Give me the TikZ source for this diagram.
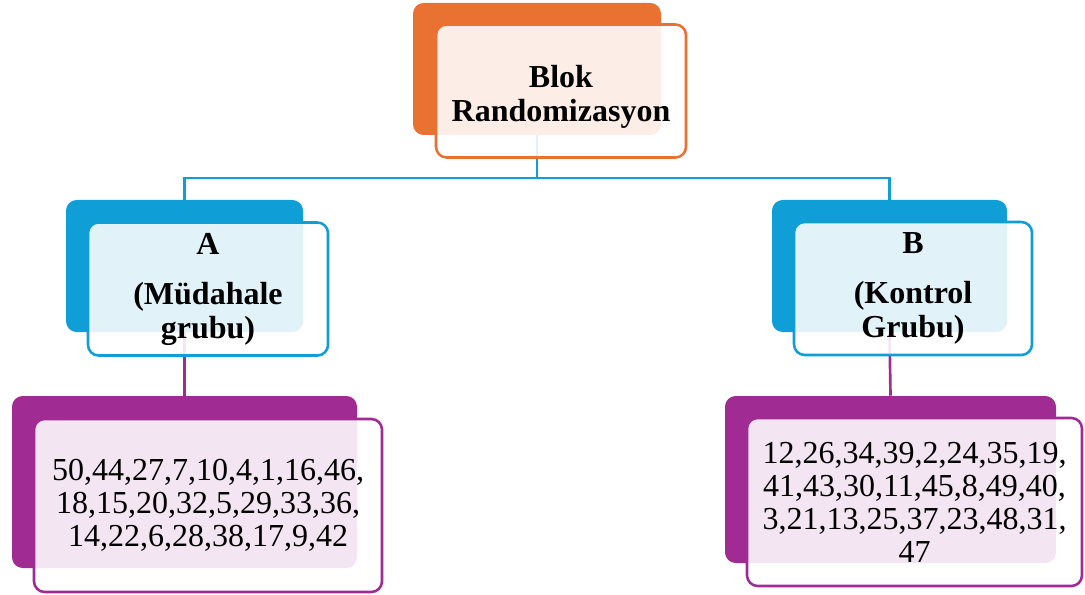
\documentclass[tikz,border=0pt]{standalone}
\usepackage{fontspec}
\setmainfont{Liberation Serif}
\definecolor{orangeA}{HTML}{E97132}
\definecolor{blueA}{HTML}{0F9ED5}
\definecolor{purpleA}{HTML}{A02B93}
\begin{document}
\begin{tikzpicture}[x=0.75pt,y=-0.75pt,
  size/.style 2 args={minimum width=#1*0.75pt,minimum height=#2*0.75pt,inner sep=0pt},
  back/.style={draw=none,fill=#1,rounded corners=8pt},
  front/.style={draw=#1,line width=1.9pt,fill=white,fill opacity=0.88,text opacity=1,
                rounded corners=8pt,align=center},
  link/.style={draw=#1,line width=2pt},
  headtext/.style={font=\fontsize{24}{25.5}\selectfont\bfseries},
  numtext/.style={font=\fontsize{24}{24.75}\selectfont}]
\useasboundingbox (0,0) rectangle (1085,595);

% solid back plates
\node[back=orangeA,size={248}{132}] (topback) at (537,69) {};
\node[back=blueA,size={237}{132}] (aback) at (184.5,266) {};
\node[back=blueA,size={235}{132}] (bback) at (889.5,266) {};
\node[back=purpleA,size={345}{172}] (anback) at (184.5,482) {};
\node[back=purpleA,size={331}{167}] (bnback) at (890.5,479.5) {};

% connectors
\coordinate (split) at (537,178);
\draw[link=blueA] (topback.south) -- (split);
\draw[link=blueA] (split) -| (aback.north);
\draw[link=blueA] (split) -| (bback.north);
\draw[link=purpleA] (aback.south) -- (anback.north);
\draw[link=purpleA] (bback.south) -- (bnback.north);

% translucent front panels with text
\node[front=orangeA,size={250}{133},headtext] (top) at (561,91)
  {\rule{0pt}{26pt}Blok\\Randomizasyon};
\node[front=blueA,size={240}{133},headtext] (a) at (208,289)
  {A\\[12pt](Müdahale\\grubu)};
\node[front=blueA,size={238}{133},headtext] (b) at (913,288.5)
  {B\\[12pt](Kontrol\\Grubu)};
\node[front=purpleA,size={348}{173},numtext] (an) at (208,505.5)
  {50,44,27,7,10,4,1,16,46,\\18,15,20,32,5,29,33,36,\\14,22,6,28,38,17,9,42};
\node[front=purpleA,size={335}{168},numtext] (bn) at (914.5,502)
  {12,26,34,39,2,24,35,19,\\41,43,30,11,45,8,49,40,\\3,21,13,25,37,23,48,31,\\47};
\end{tikzpicture}
\end{document}
